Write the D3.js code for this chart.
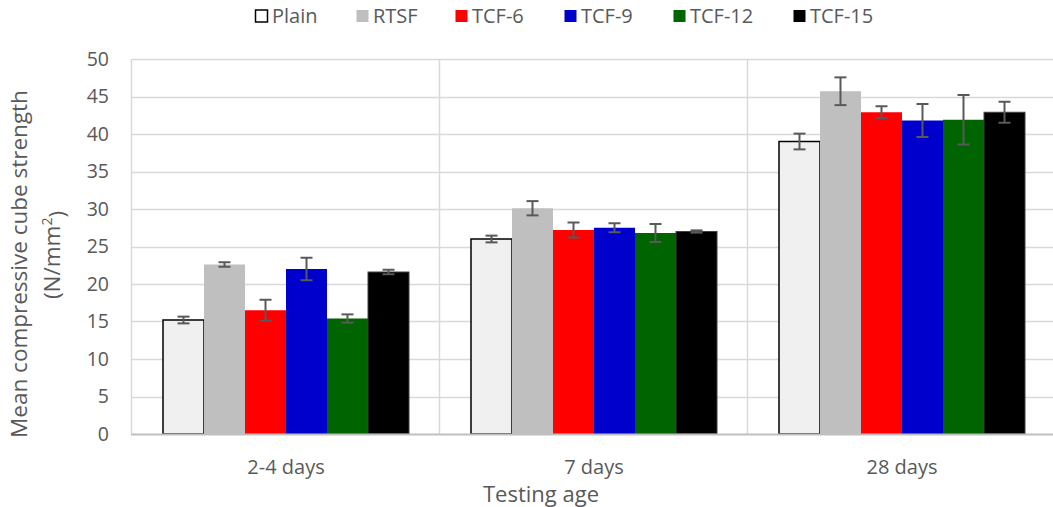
<!DOCTYPE html>
<html>
<head>
<meta charset="utf-8">
<script src="https://cdn.jsdelivr.net/npm/d3@7"></script>
<style>
  body { margin: 0; background: #fff; }
  svg { display: block; font-family: "Open Sans", sans-serif; }
</style>
</head>
<body>
<div id="chart"></div>
<script>
// testing ages and mixes
var ages = ["2-4 days", "7 days", "28 days"];
var mixes = ["Plain", "RTSF", "TCF-6", "TCF-9", "TCF-12", "TCF-15"];
var mixColors = ["#f0f0f0", "#bfbfbf", "#ff0000", "#0000cc", "#006400", "#000000"];

// mean strength per mix, one value per age
var plainMean = [15.2, 26.0, 39.0];
var rtsfMean  = [22.6, 30.1, 45.7];
var tcf6Mean  = [16.5, 27.2, 42.9];
var tcf9Mean  = [22.0, 27.5, 41.8];
var tcf12Mean = [15.4, 26.8, 41.9];
var tcf15Mean = [21.6, 27.0, 42.9];

// standard deviation (error bars)
var plainErr = [0.45, 0.45, 1.05];
var rtsfErr  = [0.30, 0.95, 1.85];
var tcf6Err  = [1.40, 1.00, 0.80];
var tcf9Err  = [1.50, 0.60, 2.20];
var tcf12Err = [0.55, 1.20, 3.30];
var tcf15Err = [0.30, 0.15, 1.40];

var yTicks = [0, 5, 10, 15, 20, 25, 30, 35, 40, 45, 50];

var means = [plainMean, rtsfMean, tcf6Mean, tcf9Mean, tcf12Mean, tcf15Mean];
var errs = [plainErr, rtsfErr, tcf6Err, tcf9Err, tcf12Err, tcf15Err];

var w = 1053, h = 507;
var margin = {top: 59, right: -3, bottom: 73, left: 132};

var svg = d3.select("#chart").append("svg")
  .attr("width", w)
  .attr("height", h);

var x0 = d3.scaleBand().domain(ages).range([margin.left, w - margin.right]).padding(0);
var x1 = d3.scaleBand().domain(mixes).range([0, x0.bandwidth()]).paddingInner(0).paddingOuter(0.756);
var y = d3.scaleLinear().domain([0, 50]).range([h - margin.bottom, margin.top]);

// gridlines
svg.append("g")
  .selectAll("line")
  .data(yTicks.slice(1))
  .enter()
  .append("line")
  .attr("x1", margin.left)
  .attr("x2", w - margin.right)
  .attr("y1", function(d) { return Math.round(y(d)) + 0.5; })
  .attr("y2", function(d) { return Math.round(y(d)) + 0.5; })
  .attr("stroke", "#d9d9d9")
  .attr("stroke-width", 1.5);

// vertical separators between ages
svg.append("g")
  .selectAll("line")
  .data(ages)
  .enter()
  .append("line")
  .attr("x1", function(d) { return Math.round(x0(d)) - 0.5; })
  .attr("x2", function(d) { return Math.round(x0(d)) - 0.5; })
  .attr("y1", y(50))
  .attr("y2", y(0))
  .attr("stroke", "#d9d9d9")
  .attr("stroke-width", 1.5);

// bars
var rows = [];
ages.forEach(function(a, i) {
  mixes.forEach(function(m, j) {
    rows.push({age: a, mix: m, k: j, value: means[j][i], err: errs[j][i]});
  });
});

var groups = svg.append("g").attr("id", "bars");
groups.selectAll("rect")
  .data(rows)
  .enter()
  .append("rect")
  .attr("x", function(d) { return x0(d.age) + x1(d.mix); })
  .attr("y", function(d) { return y(d.value); })
  .attr("width", x1.bandwidth())
  .attr("height", function(d) { return y(0) - y(d.value); })
  .attr("fill", function(d) { return mixColors[d.k]; })
  .attr("stroke", function(d) {
    if (d.k == 0) { return "#000"; }
    if (d.k == 5) { return "#404040"; }
    return "none";
  })
  .attr("stroke-width", function(d) { return d.k == 0 ? 1.5 : 1; });

// x axis line
svg.append("line")
  .attr("x1", margin.left - 1)
  .attr("x2", w)
  .attr("y1", y(0) + 0.5)
  .attr("y2", y(0) + 0.5)
  .attr("stroke", "#bfbfbf")
  .attr("stroke-width", 2);

// error bars
var eb = svg.append("g").attr("id", "errorbars")
  .attr("stroke", "#595959")
  .attr("stroke-width", 2);
var capHalf = 6;
rows.forEach(function(d) {
  var cx = x0(d.age) + x1(d.mix) + x1.bandwidth() / 2;
  var top = y(d.value + d.err), bot = y(d.value - d.err);
  eb.append("line").attr("x1", cx).attr("x2", cx).attr("y1", top).attr("y2", bot);
  eb.append("line").attr("x1", cx - capHalf).attr("x2", cx + capHalf).attr("y1", top).attr("y2", top);
  eb.append("line").attr("x1", cx - capHalf).attr("x2", cx + capHalf).attr("y1", bot).attr("y2", bot);
});

// y tick labels
svg.append("g")
  .selectAll("text")
  .data(yTicks)
  .enter()
  .append("text")
  .attr("x", 109)
  .attr("y", function(d) { return y(d); })
  .attr("dy", "0.35em")
  .attr("text-anchor", "end")
  .attr("font-size", 19.5)
  .attr("fill", "#595959")
  .text(function(d) { return d; });

// category labels
svg.append("g")
  .selectAll("text")
  .data(ages)
  .enter()
  .append("text")
  .attr("x", function(d) { return x0(d) + x0.bandwidth() / 2; })
  .attr("y", 467)
  .attr("dy", "0.35em")
  .attr("text-anchor", "middle")
  .attr("font-size", 20)
  .attr("fill", "#595959")
  .text(function(d) { return d; });

svg.append("text")
  .attr("x", 541)
  .attr("y", 494)
  .attr("dy", "0.35em")
  .attr("text-anchor", "middle")
  .attr("font-size", 22)
  .attr("fill", "#595959")
  .text("Testing age");

// y title, two lines
svg.append("text")
  .attr("transform", "translate(27,264) rotate(-90)")
  .attr("text-anchor", "middle")
  .attr("font-size", 22.5)
  .attr("fill", "#595959")
  .text("Mean compressive cube strength");
var l2 = svg.append("text")
  .attr("transform", "translate(60,255) rotate(-90)")
  .attr("text-anchor", "middle")
  .attr("font-size", 22.5)
  .attr("fill", "#595959");
l2.append("tspan").text("(N/mm");
l2.append("tspan").attr("font-size", 14).attr("dy", "-0.6em").text("2");
l2.append("tspan").attr("dy", "0.6em").text(")");

// legend
var legendX = [255, 356, 455, 564, 673, 793];
var legend = svg.append("g").attr("class", "legend");
mixes.forEach(function(m, j) {
  var g = legend.append("g").attr("transform", "translate(" + legendX[j] + ",16)");
  g.append("rect")
    .attr("x", 0.5)
    .attr("y", -6)
    .attr("width", 12)
    .attr("height", 12)
    .attr("fill", j == 0 ? "#fff" : mixColors[j])
    .attr("stroke", j == 0 ? "#000" : "none")
    .attr("stroke-width", 1.5);
  g.append("text")
    .attr("x", 17)
    .attr("y", 0)
    .attr("dy", "0.35em")
    .attr("font-size", 20)
    .attr("fill", "#595959")
    .text(m);
});
</script>
</body>
</html>
